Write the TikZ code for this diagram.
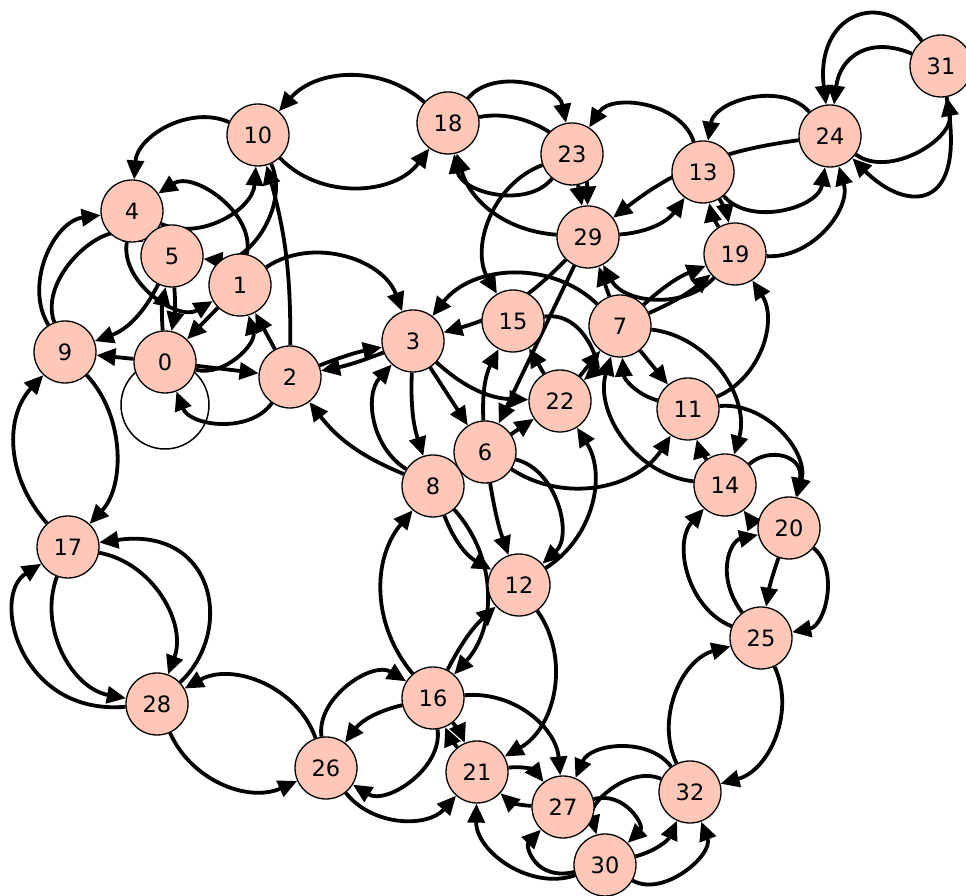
\documentclass[tikz,border=0pt]{standalone}
\usepackage{fontspec}
\setmainfont{DejaVu Sans}
\usetikzlibrary{arrows.meta}
\pgfdeclarelayer{bg}
\pgfsetlayers{bg,main}
\definecolor{vfill}{HTML}{FEC7B8}
\begin{document}
\begin{tikzpicture}[x=1pt,y=1pt,
  v/.style={circle,draw=black,line width=1.3pt,fill=vfill,minimum size=62pt,inner sep=0pt,font=\fontsize{22.5}{22.5}\selectfont},
  e/.style={line width=3.8pt,-{Triangle[length=19pt,width=17pt]}},
  loopline/.style={line width=1.5pt}]
\useasboundingbox (0,0) rectangle (966,896);
\node[v] (n0) at (165,534) {0};
\node[v] (n1) at (240,611) {1};
\node[v] (n2) at (290,519) {2};
\node[v] (n3) at (413,555) {3};
\node[v] (n4) at (132,685) {4};
\node[v] (n5) at (172,640) {5};
\node[v] (n6) at (485,444) {6};
\node[v] (n7) at (620,570) {7};
\node[v] (n8) at (433,410) {8};
\node[v] (n9) at (65,544) {9};
\node[v] (n10) at (258,761) {10};
\node[v] (n11) at (688,487) {11};
\node[v] (n12) at (519,311) {12};
\node[v] (n13) at (703,724) {13};
\node[v] (n14) at (725,411) {14};
\node[v] (n15) at (513,575) {15};
\node[v] (n16) at (433,198) {16};
\node[v] (n17) at (68,349) {17};
\node[v] (n18) at (448,773) {18};
\node[v] (n19) at (735,642) {19};
\node[v] (n20) at (789,368) {20};
\node[v] (n21) at (477,124) {21};
\node[v] (n22) at (560,495) {22};
\node[v] (n23) at (572,742) {23};
\node[v] (n24) at (830,760) {24};
\node[v] (n25) at (761,258) {25};
\node[v] (n26) at (326,128) {26};
\node[v] (n27) at (563,89) {27};
\node[v] (n28) at (157,192) {28};
\node[v] (n29) at (588,659) {29};
\node[v] (n30) at (605,31) {30};
\node[v] (n31) at (941,830) {31};
\node[v] (n32) at (690,104) {32};
\begin{pgfonlayer}{bg}
% self loop at 0
\draw[loopline] (165,491) circle (44);
% top
\draw[e] (n18) to[bend right=45] (n10);
\draw[e] (n10) to[bend right=50] (n18);
\draw[e] (n18) to[bend left=65] (n23);
\draw[e] (n18) to[bend left=50] (n29);
\draw[e] (n29) to[bend left=35] (n18);
\draw[e] (n23) to[bend left=65] (n18);
\draw[e] (n23) to[bend right=50] (n15);
\draw[e] (n1) to[bend left=52] (n3);
\draw[e] (n7) to[bend right=48] (n3);
% top left
\draw[e] (n10) to[bend right=55] (n4);
\draw[e] (n4) to[bend right=55] (n10);
\draw[e] (n2) to[bend right=8] (n10);
\draw[e] (n10) to[bend left=60] (n5);
\draw[e] (n1) to[bend right=68] (n4);
\draw[e] (n4) to[bend right=65] (n1);
\draw[e] (n9) to[bend left=57] (n4);
\draw[e] (n9) to[bend left=68] (n5);
\draw[e] (n5) to[bend left=22] (n9);
\draw[e] (n0) to (n9);
\draw[e] (n5) to[bend left=8] (n0);
\draw[e] (n0) to[bend left=8] (n5);
\draw[e] (n0) to[bend right=60] (n1);
\draw[e] (n1) to (n0);
\draw[e] (n2) to (n1);
\draw[e] (n0) to (n2);
\draw[e] (n2) to[bend left=62] (n0);
\draw[e] (n3) to[bend left=5] (n2);
\draw[e] (n2) to[bend left=5] (n3);
\draw[e] (n8) to[bend left=15] (n2);
% middle
\draw[e] (n8) to[bend left=50] (n3);
\draw[e] (n3) to[bend right=10] (n8);
\draw[e] (n3) to (n6);
\draw[e] (n3) to[bend right=20] (n22);
\draw[e] (n6) to[bend right=5] (n12);
\draw[e] (n6) to[bend left=62] (n12);
\draw[e] (n12) to[bend right=45] (n22);
\draw[e] (n6) to (n22);
\draw[e] (n6) to[bend right=45] (n11);
\draw[e] (n22) to (n15);
\draw[e] (n6) to[bend left=15] (n15);
\draw[e] (n15) .. controls (585,585) and (600,530) .. (n22);
\draw[e] (n22) to (n7);
\draw[e] (n7) to (n11);
\draw[e] (n7) to[bend left=50] (n14);
\draw[e] (n14) to[bend left=50] (n7);
\draw[e] (n11) to[bend left=35] (n7);
\draw[e] (n7) to[bend left=10] (n19);
\draw[e] (n7) to[bend right=8] (n19);
\draw[e] (n19) to[bend left=55] (n29);
\draw[e] (n7) to (n29);
\draw[e] (n29) to[bend left=15] (n3);
\draw[e] (n29) to (n6);
% top right
\draw[e] (n13) to[bend right=65] (n23);
\draw[e] (n24) to[bend right=65] (n13);
\draw[e] (n13) to[bend right=65] (n24);
\draw[e] (n24) to[bend right=15] (n29);
\draw[e] (n29) to[bend right=25] (n13);
\draw[e] (n23) to (n29);
\draw[e] (n19) to[bend left=10] (n13);
\draw[e] (n13) to[bend left=10] (n19);
\draw[e] (n19) to[bend right=55] (n24);
\draw[e] (n24) to[bend right=68] (n31);
\draw[e] (n31) .. controls (968,680) and (905,685) .. (n24);
\draw[e] (n31) .. controls (880,910) and (815,880) .. (n24);
\draw[e] (n31) .. controls (870,860) and (840,840) .. (n24);
% right
\draw[e] (n11) to[bend right=50] (n19);
\draw[e] (n11) to[bend left=55] (n20);
\draw[e] (n14) to[bend left=10] (n11);
\draw[e] (n14) .. controls (770,450) and (805,440) .. (n20);
\draw[e] (n20) to[bend left=20] (n14);
\draw[e] (n25) to[bend left=55] (n14);
\draw[e] (n25) .. controls (715,320) and (730,355) .. (n20);
\draw[e] (n20) to[bend right=5] (n25);
\draw[e] (n20) to[bend left=65] (n25);
\draw[e] (n25) to[bend left=50] (n32);
\draw[e] (n32) to[bend left=50] (n25);
% bottom
\draw[e] (n32) to[bend right=60] (n27);
\draw[e] (n32) to[bend right=65] (n30);
\draw[e] (n27) .. controls (625,105) and (645,70) .. (n30);
\draw[e] (n30) to[bend right=25] (n32);
\draw[e] (n30) to[bend right=70] (n32);
\draw[e] (n30) .. controls (535,15) and (525,50) .. (n27);
\draw[e] (n30) to[bend left=55] (n21);
\draw[e] (n21) to[bend left=30] (n27);
\draw[e] (n27) to[bend left=20] (n21);
\draw[e] (n12) to[bend left=48] (n21);
\draw[e] (n16) to[bend left=45] (n27);
\draw[e] (n16) to[bend left=10] (n12);
\draw[e] (n16) to[bend left=40] (n8);
\draw[e] (n8) to[bend left=42] (n16);
\draw[e] (n8) to[bend right=20] (n12);
\draw[e] (n26) to[bend left=65] (n16);
\draw[e] (n16) to[bend right=20] (n26);
\draw[e] (n16) to[bend left=65] (n26);
\draw[e] (n21) to[bend left=8] (n16);
\draw[e] (n16) to[bend left=8] (n21);
\draw[e] (n26) to[bend right=50] (n21);
\draw[e] (n28) to[bend right=45] (n26);
\draw[e] (n26) to[bend right=50] (n28);
% left
\draw[e] (n17) to[bend right=50] (n28);
\draw[e] (n17) to[bend left=50] (n28);
\draw[e] (n28) .. controls (20,180) and (-10,300) .. (n17);
\draw[e] (n28) .. controls (235,265) and (215,370) .. (n17);
\draw[e] (n9) .. controls (125,480) and (125,410) .. (n17);
\draw[e] (n17) .. controls (5,420) and (5,480) .. (n9);
\end{pgfonlayer}
\end{tikzpicture}
\end{document}
